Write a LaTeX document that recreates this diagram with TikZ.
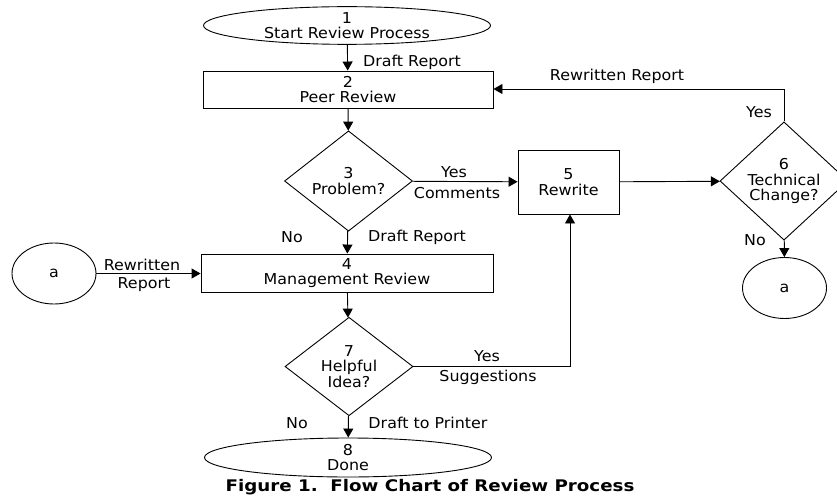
\documentclass[tikz,border=0pt]{standalone}
\usepackage{fontspec}
\setmainfont{DejaVu Sans}[FakeStretch=1.06]
\newfontfamily\captionface{DejaVu Sans}[FakeStretch=1.14]
\usetikzlibrary{shapes.geometric,arrows.meta}

\begin{document}
\begin{tikzpicture}[x=1pt,y=-1pt,
  every node/.style={font=\fontsize{15}{15.5}\selectfont, inner sep=0pt, align=center},
  flowline/.style={line width=0.9pt},
  flowarrow/.style={flowline, -{Triangle[length=9pt,width=10pt]}},
  terminal/.style={draw, line width=0.9pt, ellipse, minimum width=287pt, minimum height=36pt},
  procbox/.style={draw, line width=0.9pt, rectangle},
  decision/.style={draw, line width=0.9pt, diamond, minimum width=128pt, minimum height=92pt},
  connector/.style={draw, line width=0.9pt, ellipse, minimum width=84pt, minimum height=61pt},
  lbl/.style={}]
\useasboundingbox (0,0) rectangle (837,497);

% process steps
\node[terminal] (n1) at (347,25.5) {1\\Start Review Process};
\node[procbox, minimum width=290pt, minimum height=37pt] (n2) at (348,89.5) {2\\Peer Review};
\node[decision] (n3) at (348.5,181) {3\\Problem?};
\node[procbox, minimum width=101pt, minimum height=64pt] (n5) at (568.5,182) {5\\Rewrite};
\node[decision] (n6) at (784,181) {6\\Technical\\Change?};
\node[connector] (ar) at (784.5,288) {a};
\node[connector] (al) at (54,273.5) {a};
\node[procbox, minimum width=292pt, minimum height=38pt] (n4) at (347,273) {4\\Management Review};
\node[decision, minimum height=93pt] (n7) at (349,366.5) {7\\Helpful\\Idea?};
\node[terminal, minimum height=39pt] (n8) at (348,457.5) {8\\Done};

% bend points
\coordinate (c6up) at (784,89);
\coordinate (c7r) at (570,366.5);

% connectors
\draw[flowarrow] (n1) -- (n2);
\draw[flowarrow] (n2) -- (n3);
\draw[flowarrow] (n3) -- (n5);
\draw[flowarrow] (n5) -- (n6);
\draw[flowarrow] (n6.north) -- (c6up) -- (n2.east |- c6up);
\draw[flowarrow] (n6) -- (ar);
\draw[flowarrow] (n3) -- (n4);
\draw[flowarrow] (al) -- (n4.west |- al);
\draw[flowarrow] (n4) -- (n7);
\draw[flowarrow] (n7.east) -- (c7r) -- (n5.south -| c7r);
\draw[flowarrow] (n7) -- (n8);

% connector labels
\node[lbl] (t1) at (412,62) {Draft Report};
\node[lbl] (t2) at (454,172) {Yes};
\node[lbl] (t3) at (457,193) {Comments};
\node[lbl] (t4) at (617,76) {Rewritten Report};
\node[lbl] (t5) at (759,112) {Yes};
\node[lbl] (t6) at (755,240) {No};
\node[lbl] (t7) at (292,237) {No};
\node[lbl] (t8) at (417,237) {Draft Report};
\node[lbl] (t9) at (142,265) {Rewritten};
\node[lbl] (t10) at (144,285) {Report};
\node[lbl] (t11) at (487,356) {Yes};
\node[lbl] (t12) at (488,377) {Suggestions};
\node[lbl] (t13) at (297,423) {No};
\node[lbl] (t14) at (428,423) {Draft to Printer};

% caption
\node (cap) at (430,487) {\captionface\fontsize{16}{18}\selectfont\bfseries Figure 1.\ \ Flow Chart of Review Process};
\end{tikzpicture}
\end{document}
